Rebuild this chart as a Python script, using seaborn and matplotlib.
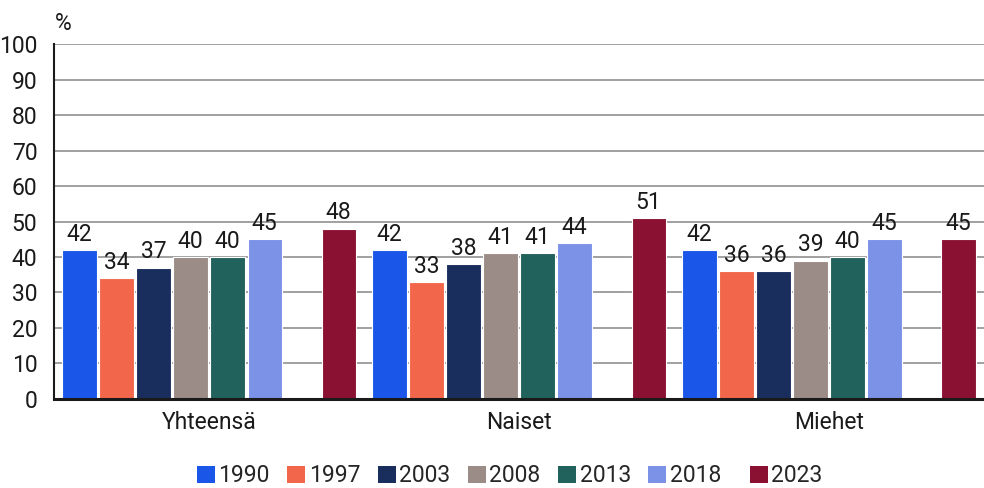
import matplotlib
matplotlib.use("Agg")
import matplotlib.pyplot as plt
import seaborn as sns
import pandas as pd
from matplotlib.patches import Patch

groups = ["Yhteensä", "Naiset", "Miehet"]
years = ["1990", "1997", "2003", "2008", "2013", "2018", "2023"]
v1990 = [42, 42, 42]
v1997 = [34, 33, 36]
v2003 = [37, 38, 36]
v2008 = [40, 41, 39]
v2013 = [40, 41, 40]
v2018 = [45, 44, 45]
v2023 = [48, 51, 45]
colors = ["#1a56e8", "#f2664c", "#1a2e5e", "#9b8c87", "#22625c", "#7b92e6", "#8a1132"]

series = [v1990, v1997, v2003, v2008, v2013, v2018, v2023]
rows = []
for y, vals in zip(years, series):
    for g, v in zip(groups, vals):
        rows.append({"group": g, "year": y, "value": v})
df = pd.DataFrame(rows)

gap_level = "_gap"
hue_order = years[:6] + [gap_level] + years[6:]
palette = dict(zip(years, colors))
palette[gap_level] = "#ffffff"

sns.set_theme(style="white")
plt.rcParams["font.family"] = ["Roboto", "DejaVu Sans"]

FS = 16.5

fig = plt.figure(figsize=(9.84, 4.88), dpi=100)
ax = fig.add_axes([0.0549, 0.1824, 0.9451, 0.7274])

sns.barplot(data=df, x="group", y="value", hue="year", hue_order=hue_order,
            order=groups, palette=palette, width=0.955, gap=0.08,
            edgecolor="white", linewidth=0.8, legend=False, ax=ax,
            errorbar=None, saturation=1)

for c in ax.containers:
    ax.bar_label(c, fmt="%d", padding=3, fontsize=FS, color="#1a1a1a")

ax.set_ylim(0, 100)
ax.set_xlim(-0.5, 2.5)
ax.set_yticks(range(0, 101, 10))
ax.yaxis.grid(True, color="#999999", linewidth=1.3)
ax.set_axisbelow(True)
ax.tick_params(axis="both", length=0, labelsize=FS, colors="#1a1a1a", pad=12)
ax.tick_params(axis="x", pad=9)
ax.set_xlabel("")
ax.set_ylabel("")
for s in ["top", "right"]:
    ax.spines[s].set_visible(False)
ax.spines["left"].set_color("#1a1a1a")
ax.spines["left"].set_linewidth(1.5)
ax.spines["bottom"].set_color("#1a1a1a")
ax.spines["bottom"].set_linewidth(2.2)

fig.text(0.056, 0.952, "%", fontsize=FS, color="#1a1a1a", ha="left", va="center")

handles = [Patch(facecolor=c, edgecolor="none") for c in colors]
labels = years[:5] + ["2018  "] + years[6:]
fig.legend(handles, labels, loc="center", bbox_to_anchor=(0.518, 0.025), ncol=7,
           frameon=False, fontsize=FS, handlelength=0.8, handleheight=0.8,
           handletextpad=0.15, columnspacing=0.75, borderaxespad=0)

fig.savefig("out.png", dpi=100)
